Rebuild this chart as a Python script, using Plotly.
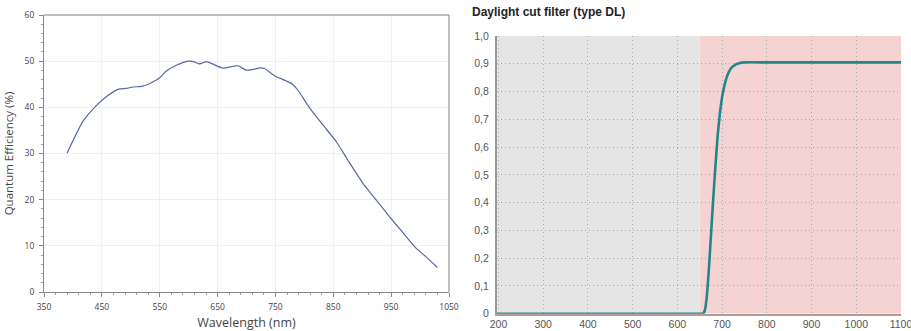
import plotly.graph_objects as go

# Sensor quantum efficiency curve
qe_wavelength = [390, 417, 440, 461, 478, 492, 504, 521, 538, 550, 561, 579, 599, 610,
                 619, 631, 642, 659, 677, 685, 700, 711, 723, 731, 749, 769, 780, 789,
                 809, 832, 855, 875, 901, 924, 947, 970, 993, 1011, 1030]
qe_percent = [30.1, 36.9, 40.3, 42.6, 43.9, 44.1, 44.4, 44.6, 45.5, 46.4, 47.8, 49.1, 50.0, 49.85,
              49.4, 49.9, 49.35, 48.5, 48.9, 49.0, 48.05, 48.2, 48.55, 48.4, 46.8, 45.7, 44.95, 43.7,
              39.9, 36.2, 32.6, 28.6, 23.6, 19.95, 16.35, 12.9, 9.5, 7.56, 5.3]

# Daylight cut filter (type DL) transmission
dl_wavelength = [196, 400, 600, 650, 657, 661, 665, 670, 675, 680, 685, 690, 695, 700,
                 705, 710, 715, 720, 730, 740, 750, 800, 900, 1000, 1100]
dl_transmission = [0, 0, 0, 0, 0.0, 0.01, 0.05, 0.15, 0.28, 0.41, 0.53, 0.64, 0.72, 0.78,
                   0.82, 0.85, 0.87, 0.884, 0.897, 0.903, 0.905, 0.905, 0.905, 0.905, 0.905]

# Shaded bands: blocked (grey) and passed (red) regions
blocked_band = [196, 650]
passed_band = [650, 1100]

qe_xticks = [350, 450, 550, 650, 750, 850, 950, 1050]
qe_yticks = [0, 10, 20, 30, 40, 50, 60]
dl_xticks = [200, 300, 400, 500, 600, 700, 800, 900, 1000, 1100]
dl_yticks = [0, 0.1, 0.2, 0.3, 0.4, 0.5, 0.6, 0.7, 0.8, 0.9, 1.0]
dl_yticklabels = ["0", "0,1", "0,2", "0,3", "0,4", "0,5", "0,6", "0,7", "0,8", "0,9", "1,0"]

W, H = 911, 331

fig = go.Figure()

fig.add_trace(go.Scatter(
    x=qe_wavelength, y=qe_percent, mode="lines",
    line=dict(color="#5866a6", width=1.2, shape="spline", smoothing=0.6),
    xaxis="x", yaxis="y", hoverinfo="skip", showlegend=False))

fig.add_trace(go.Scatter(
    x=dl_wavelength, y=dl_transmission, mode="lines",
    line=dict(color="#21878a", width=2.6, shape="spline", smoothing=0.5),
    xaxis="x2", yaxis="y2", hoverinfo="skip", showlegend=False))

# Background bands on the filter chart
fig.add_shape(type="rect", xref="x2", yref="y2", x0=blocked_band[0], x1=blocked_band[1],
              y0=0, y1=1.0, fillcolor="#e5e5e5", line_width=0, layer="below")
fig.add_shape(type="rect", xref="x2", yref="y2", x0=passed_band[0], x1=passed_band[1],
              y0=0, y1=1.0, fillcolor="#f6d3d3", line_width=0, layer="below")

tick_font_left = dict(family="Open Sans, DejaVu Sans, sans-serif", size=8.5, color="#444444")
tick_font_right = dict(family="Liberation Sans, Arial, sans-serif", size=10.5, color="#555555")

fig.update_layout(
    width=W, height=H,
    margin=dict(l=0, r=0, t=0, b=0),
    paper_bgcolor="white", plot_bgcolor="rgba(0,0,0,0)",
    xaxis=dict(
        domain=[44 / W, 449 / W], range=[350, 1050], automargin=False,
        tickvals=qe_xticks, ticks="outside", ticklen=4, tickcolor="#888888",
        minor=dict(dtick=20, tick0=350, ticks="outside", ticklen=2, tickcolor="#999999"),
        showline=True, linecolor="#888888", linewidth=1, mirror=False,
        showgrid=True, gridcolor="#f0f0f0", gridwidth=1, zeroline=False,
        tickfont=tick_font_left, ticklabelstandoff=3,
        title=dict(text="Wavelength (nm)", standoff=8,
                   font=dict(family="Open Sans, DejaVu Sans, sans-serif", size=12.5, color="#444444")),
        anchor="y"),
    yaxis=dict(
        domain=[(H - 292) / H, (H - 15) / H], range=[0, 60], automargin=False,
        tickvals=qe_yticks, ticks="outside", ticklen=4, tickcolor="#888888",
        minor=dict(dtick=2, ticks="outside", ticklen=2, tickcolor="#999999"),
        showline=True, linecolor="#888888", linewidth=1,
        showgrid=True, gridcolor="#f0f0f0", gridwidth=1, zeroline=False,
        tickfont=tick_font_left, ticklabelstandoff=3,
        title=dict(text="Quantum Efficiency (%)", standoff=8,
                   font=dict(family="Open Sans, DejaVu Sans, sans-serif", size=11.5, color="#444444")),
        anchor="x"),
    xaxis2=dict(
        domain=[496.7 / W, 901 / W], range=[196, 1100], automargin=False,
        tickvals=dl_xticks, ticks="", showline=True, linecolor="#b49a9a", linewidth=1.5,
        showgrid=True, gridcolor="#aaaaaa", griddash="1px,3px", gridwidth=1, zeroline=False,
        tickfont=tick_font_right, ticklabeloverflow="allow", anchor="y2"),
    yaxis2=dict(
        domain=[(H - 313.7) / H, (H - 36) / H], range=[0, 1.0], automargin=False,
        tickvals=dl_yticks, ticktext=dl_yticklabels, ticks="", ticklabelstandoff=4,
        showline=True, linecolor="#999999", linewidth=1.5,
        showgrid=True, gridcolor="#aaaaaa", griddash="1px,3px", gridwidth=1, zeroline=False,
        tickfont=tick_font_right, ticklabeloverflow="allow", anchor="x2"),
)

# Frame on the top and right of the efficiency chart
fig.add_shape(type="line", xref="paper", yref="paper", x0=44 / W, x1=449 / W,
              y0=(H - 15) / H, y1=(H - 15) / H, line=dict(color="#aaaaaa", width=1.5))
fig.add_shape(type="line", xref="paper", yref="paper", x0=449 / W, x1=449 / W,
              y0=(H - 292) / H, y1=(H - 15) / H, line=dict(color="#aaaaaa", width=1.5))

fig.add_annotation(
    text="<b>Daylight cut filter (type DL)</b>", xref="paper", yref="paper",
    x=470 / W, y=(H - 12) / H, xanchor="left", yanchor="middle", showarrow=False,
    font=dict(family="Liberation Sans, Arial, sans-serif", size=12, color="#222222"))

fig.write_html("out.html")
